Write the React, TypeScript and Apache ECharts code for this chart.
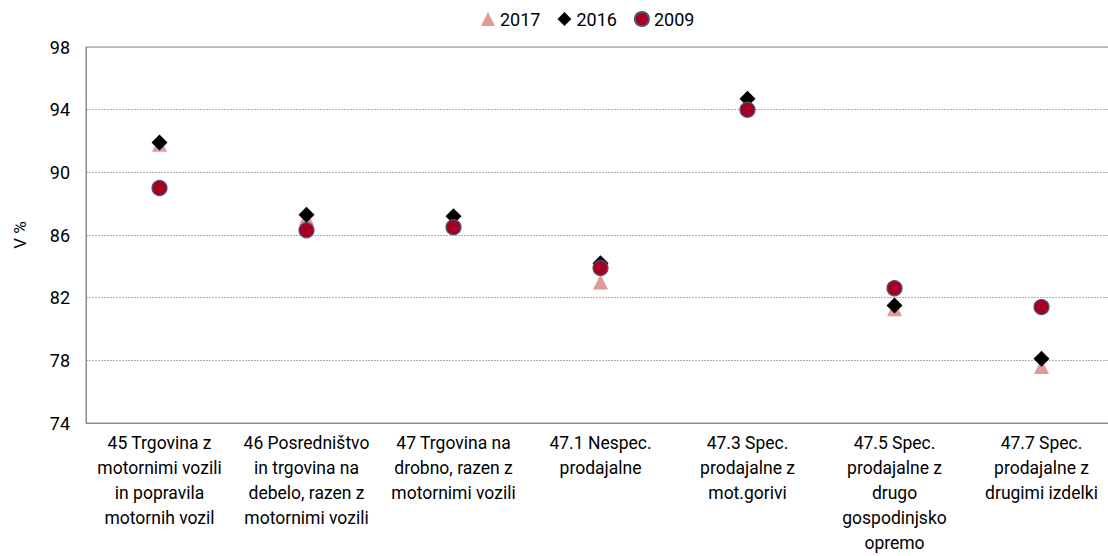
import React, { useEffect, useRef } from "react";
import * as echarts from "echarts";

const categories = [
  "45 Trgovina z\nmotornimi vozili\nin popravila\nmotornih vozil",
  "46 Posredništvo\nin trgovina na\ndebelo, razen z\nmotornimi vozili",
  "47 Trgovina na\ndrobno, razen z\nmotornimi vozili",
  "47.1 Nespec.\nprodajalne",
  "47.3 Spec.\nprodajalne z\nmot.gorivi",
  "47.5 Spec.\nprodajalne z\ndrugo\ngospodinjsko\nopremo",
  "47.7 Spec.\nprodajalne z\ndrugimi izdelki",
];
const values2017 = [91.8, 87.1, 86.9, 83.0, 94.3, 81.3, 77.6];
const values2016 = [91.9, 87.3, 87.2, 84.2, 94.7, 81.5, 78.1];
const values2009 = [89.0, 86.3, 86.5, 83.9, 94.0, 82.6, 81.4];
const yTicks = { min: 74, max: 98, interval: 4 };

const FONT = "Roboto";

export default function App() {
  const ref = useRef<HTMLDivElement>(null);
  useEffect(() => {
    if (!ref.current) return;
    const chart = echarts.init(ref.current, null, { renderer: "svg" });
    chart.setOption({
      animation: false,
      textStyle: { fontFamily: FONT },
      legend: {
        top: 10,
        left: 481,
        padding: 0,
        itemGap: 17,
        itemWidth: 14,
        itemHeight: 14,
        textStyle: { fontSize: 18, color: "#000", fontFamily: FONT },
        data: [
          { name: "2017", icon: "triangle" },
          { name: "2016", icon: "diamond" },
          { name: "2009", icon: "circle" },
        ],
      },
      grid: {
        left: 86,
        top: 47,
        width: 1029,
        height: 376,
        show: true,
        borderColor: "#8c8c8c",
        borderWidth: 1,
        containLabel: false,
        outerBoundsMode: "none",
      },
      xAxis: {
        type: "category",
        data: categories,
        axisLine: { show: true, lineStyle: { color: "#8c8c8c" } },
        axisTick: { show: false },
        axisLabel: {
          interval: 0,
          color: "#000",
          fontSize: 17.5,
          lineHeight: 25,
          margin: 7,
          fontFamily: FONT,
        },
        splitLine: { show: false },
      },
      yAxis: {
        type: "value",
        min: yTicks.min,
        max: yTicks.max,
        interval: yTicks.interval,
        name: "V %",
        nameLocation: "middle",
        nameGap: 58,
        nameRotate: 90,
        nameTextStyle: { color: "#000", fontSize: 17, fontFamily: FONT },
        axisLine: { show: true, lineStyle: { color: "#8c8c8c" } },
        axisTick: { show: false },
        axisLabel: { color: "#000", fontSize: 18, margin: 16, fontFamily: FONT },
        splitLine: { show: true, lineStyle: { color: "#b0b0b0", type: [2, 1], width: 1 } },
      },
      series: [
        {
          name: "2017",
          type: "scatter",
          symbol: "triangle",
          symbolSize: 15,
          itemStyle: { color: "#e09a9a", opacity: 1 },
          data: values2017,
          z: 2,
        },
        {
          name: "2016",
          type: "scatter",
          symbol: "diamond",
          symbolSize: 16,
          itemStyle: { color: "#000", opacity: 1 },
          data: values2016,
          z: 3,
        },
        {
          name: "2009",
          type: "scatter",
          symbol: "circle",
          symbolSize: 15,
          itemStyle: { color: "#a50021", borderColor: "#4d5677", borderWidth: 1.2, opacity: 1 },
          data: values2009,
          z: 4,
        },
      ],
    });
    return () => chart.dispose();
  }, []);
  return (
    <div
      ref={ref}
      style={{ position: "absolute", left: 0, top: 0, width: 1108, height: 556 }}
    />
  );
}
